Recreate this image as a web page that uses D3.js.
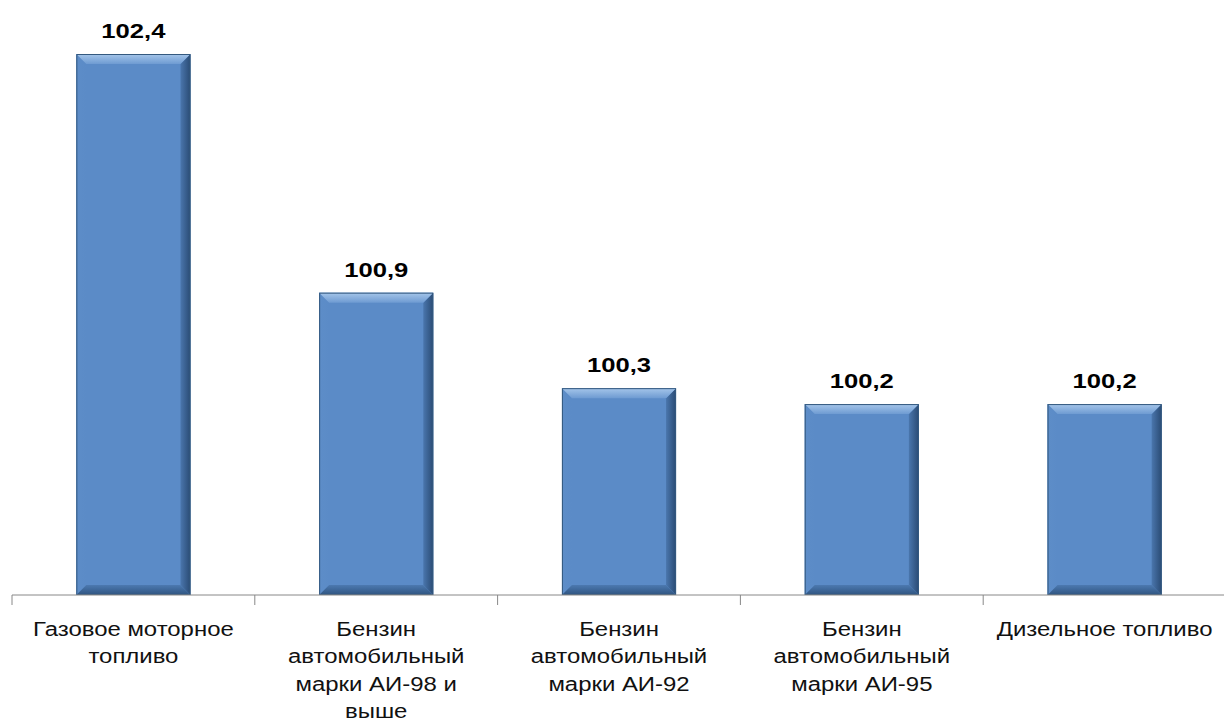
<!DOCTYPE html>
<html>
<head>
<meta charset="utf-8">
<script src="https://cdn.jsdelivr.net/npm/d3@7"></script>
<style>
  body { margin: 0; background: #fff; }
  text { font-family: Arial, "Liberation Sans", sans-serif; }
</style>
</head>
<body>
<div id="chart"></div>
<script>
// data
var categories = ["Газовое моторное топливо", "Бензин автомобильный марки АИ-98 и выше",
  "Бензин автомобильный марки АИ-92", "Бензин автомобильный марки АИ-95", "Дизельное топливо"];
var labelLines = [
  ["Газовое моторное", "топливо"],
  ["Бензин", "автомобильный", "марки АИ-98 и", "выше"],
  ["Бензин", "автомобильный", "марки АИ-92"],
  ["Бензин", "автомобильный", "марки АИ-95"],
  ["Дизельное топливо"]
];
var values = [102.4, 100.9, 100.3, 100.2, 100.2];
var valueLabels = ["102,4", "100,9", "100,3", "100,2", "100,2"];

var svgWidth = 1224, svgHeight = 722;
var baseY = 595;

var svg = d3.select("#chart").append("svg")
  .attr("width", svgWidth)
  .attr("height", svgHeight);

var x = d3.scaleBand()
  .domain(categories)
  .range([12, 1226])
  .paddingInner(0.53)
  .paddingOuter(0.265);

var y = d3.scaleLinear()
  .domain([99, 102.4])
  .range([baseY, 54]);

// gradients for the bevelled bars
var defs = svg.append("defs");
function addGrad(id, x2, y2, c1, c2) {
  var g = defs.append("linearGradient").attr("id", id)
    .attr("x1", 0).attr("y1", 0).attr("x2", x2).attr("y2", y2);
  g.append("stop").attr("offset", "0%").attr("stop-color", c1);
  g.append("stop").attr("offset", "100%").attr("stop-color", c2);
}
var face = "#5b8bc7";
addGrad("bevTop", 0, 1, "#a6c6ea", "#6e9bd2");
addGrad("bevLeft", 1, 0, "#5d8dc8", face);
addGrad("bevRight", 1, 0, "#4a76ad", "#2a4b74");
addGrad("bevBottom", 0, 1, "#4c79b0", "#2f5480");

var bev = 10;
var bars = svg.selectAll("g.bar")
  .data(values)
  .enter()
  .append("g")
  .attr("class", "bar");

bars.each(function(d, i) {
  var g = d3.select(this);
  var x0 = x(categories[i]), w = x.bandwidth();
  var y0 = y(d), y1 = baseY;
  var x1 = x0 + w;
  g.append("rect").attr("x", x0).attr("y", y0).attr("width", w).attr("height", y1 - y0)
    .attr("fill", face);
  g.append("polygon")
    .attr("points", [[x0, y0], [x0 + bev, y0 + bev], [x0 + bev, y1 - bev], [x0, y1]].join(" "))
    .attr("fill", "url(#bevLeft)");
  g.append("polygon")
    .attr("points", [[x1, y0], [x1, y1], [x1 - bev, y1 - bev], [x1 - bev, y0 + bev]].join(" "))
    .attr("fill", "url(#bevRight)");
  g.append("polygon")
    .attr("points", [[x0, y1], [x1, y1], [x1 - bev, y1 - bev], [x0 + bev, y1 - bev]].join(" "))
    .attr("fill", "url(#bevBottom)");
  g.append("polygon")
    .attr("points", [[x0, y0], [x1, y0], [x1 - bev, y0 + bev], [x0 + bev, y0 + bev]].join(" "))
    .attr("fill", "url(#bevTop)");
  g.append("rect").attr("x", x0 + 0.5).attr("y", y0 + 0.5).attr("width", w - 1).attr("height", y1 - y0 - 1)
    .attr("fill", "none").attr("stroke", "#34597f").attr("stroke-width", 1);
});

// value labels
svg.selectAll("text.val")
  .data(values)
  .enter()
  .append("text")
  .attr("class", "val")
  .attr("transform", (d, i) => `translate(${x(categories[i]) + x.bandwidth() / 2}, ${y(d) - 16}) scale(1.22,1)`)
  .attr("text-anchor", "middle")
  .style("font-size", "21px")
  .style("font-weight", "bold")
  .attr("fill", "#000")
  .text((d, i) => valueLabels[i]);

// x axis
var xAxis = d3.axisBottom(x).tickSize(0).tickFormat("");
var axisG = svg.append("g")
  .attr("transform", `translate(0, ${baseY})`)
  .call(xAxis);
axisG.select(".domain").attr("stroke", "#888").attr("d", "M12,0H1226");

// tick marks between categories
var step = x.step();
var tickPos = d3.range(0, categories.length + 1).map(k => 12 + k * step);
axisG.selectAll("line.sep")
  .data(tickPos)
  .enter()
  .append("line")
  .attr("class", "sep")
  .attr("x1", d => d).attr("x2", d => d)
  .attr("y1", 0).attr("y2", 10)
  .attr("stroke", "#888");

// category labels
var catG = svg.selectAll("g.cat")
  .data(labelLines)
  .enter()
  .append("g")
  .attr("class", "cat")
  .attr("transform", (d, i) => `translate(${x(categories[i]) + x.bandwidth() / 2}, 636) scale(1.14,1)`);

catG.selectAll("text")
  .data(d => d)
  .enter()
  .append("text")
  .attr("y", (d, k) => k * 27.5)
  .attr("text-anchor", "middle")
  .style("font-size", "21px")
  .attr("fill", "#111")
  .text(d => d);
</script>
</body>
</html>
